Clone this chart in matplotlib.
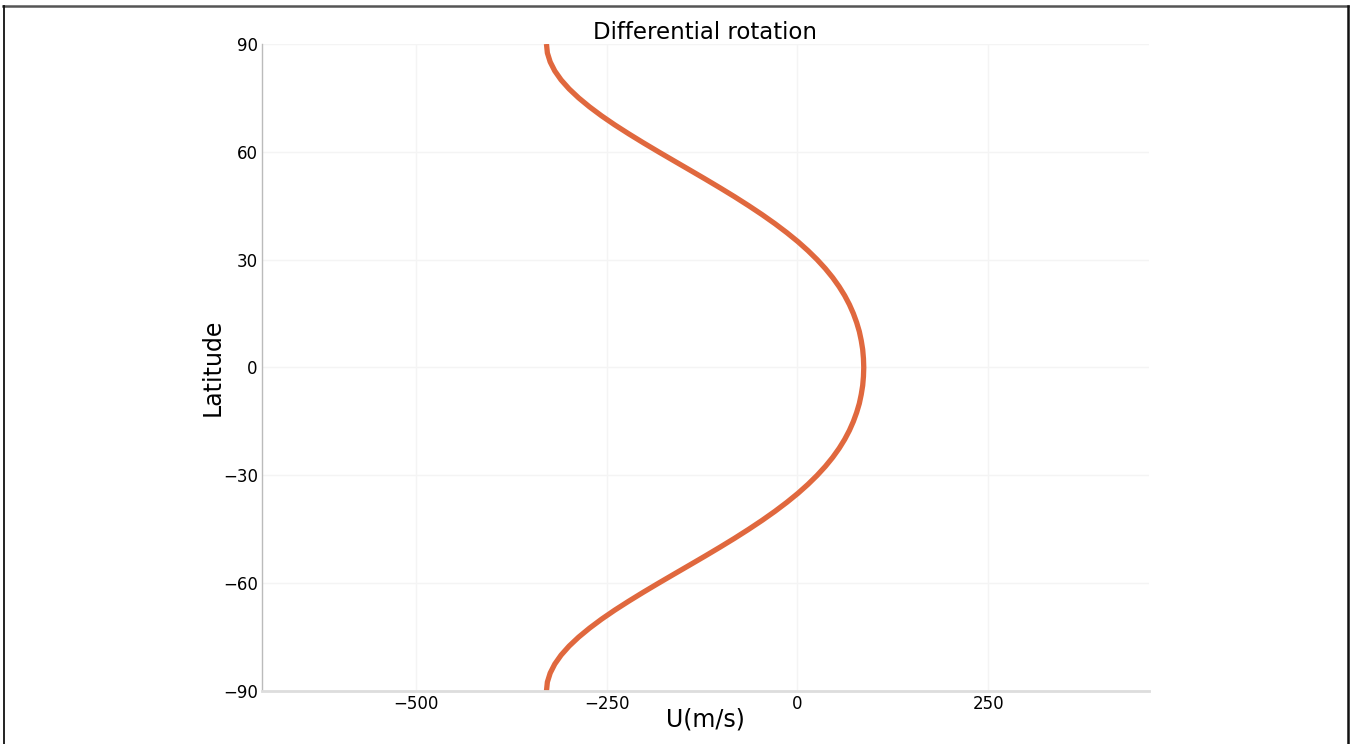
import numpy as np
import matplotlib.pyplot as plt
from matplotlib.lines import Line2D

# latitude (deg) and zonal velocity U (m/s), north half
lat_north = [0, 2.5, 5, 7.5, 10, 12.5, 15, 17.5, 20, 22.5, 25, 27.5, 30, 32.5,
             35, 37.5, 40, 42.5, 45, 47.5, 50, 52.5, 55, 57.5, 60, 62.5, 65,
             67.5, 70, 72.5, 75, 77.5, 80, 82.5, 85, 87.5, 90]
u_north = [87, 86.6, 85.6, 83.7, 81.2, 77.7, 73.4, 68.2, 62.0, 54.7, 46.3,
           36.7, 25.9, 13.9, 0.7, -13.8, -29.4, -46.1, -63.8, -82.3, -101.6,
           -121.4, -141.6, -161.9, -182.1, -201.9, -221.1, -239.5, -256.7,
           -272.5, -286.8, -299.3, -309.8, -318.1, -324.1, -327.8, -329]

# profile is symmetric about the equator
lat = np.array([-l for l in lat_north[:0:-1]] + lat_north)
u = np.array(u_north[:0:-1] + u_north)

xticks = [-500, -250, 0, 250]
yticks = [-90, -60, -30, 0, 30, 60, 90]

fig = plt.figure(figsize=(13.51, 7.44), dpi=100)
ax = fig.add_axes([0.1939, 0.0712, 0.6566, 0.8697])

ax.plot(u, lat, color="#e0683e", linewidth=3.8, solid_capstyle="butt",
        solid_joinstyle="round")

ax.set_xlim(-702, 461)
ax.set_ylim(-90, 90)
ax.set_xticks(xticks)
ax.set_yticks(yticks)
ax.tick_params(length=0, labelsize=12, pad=3)
ax.grid(True, color="#f4f4f4", linewidth=1)
ax.set_axisbelow(True)

for s in ["top", "right"]:
    ax.spines[s].set_visible(False)
ax.spines["left"].set_color("#bbbbbb")
ax.spines["left"].set_linewidth(1)
ax.spines["bottom"].set_color("#dddddd")
ax.spines["bottom"].set_linewidth(2)

ax.set_title("Differential rotation", fontsize=16.5, pad=2)
ax.set_xlabel("U(m/s)", fontsize=17, labelpad=-4)
ax.set_ylabel("Latitude", fontsize=17, labelpad=-1)

# frame around the figure (top, left, right)
fig.add_artist(Line2D([0.002, 0.998], [0.9925, 0.9925], transform=fig.transFigure, color="#555555", linewidth=1.8))
fig.add_artist(Line2D([0.0026, 0.0026], [0, 0.9925], transform=fig.transFigure, color="#111111", linewidth=1.3))
fig.add_artist(Line2D([0.9978, 0.9978], [0, 0.9925], transform=fig.transFigure, color="#111111", linewidth=1.8))

fig.savefig("out.png", dpi=100)
